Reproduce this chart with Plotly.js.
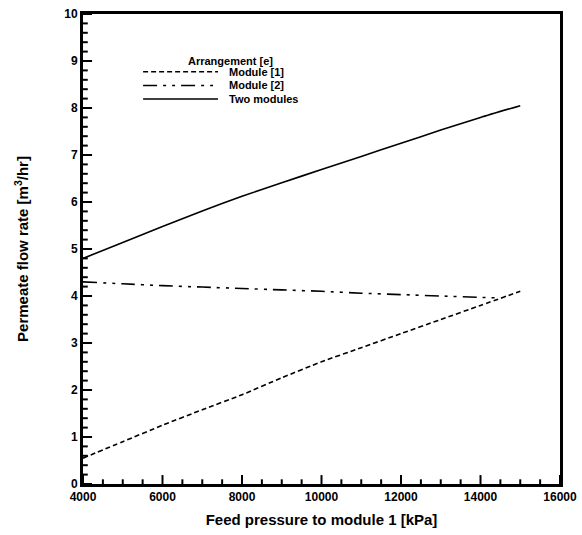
<!DOCTYPE html>
<html>
<head>
<meta charset="utf-8">
<script src="https://cdn.plot.ly/plotly-3.0.1.min.js"></script>
<style>html,body{margin:0;padding:0;background:#fff;}#chart{width:582px;height:535px;}</style>
</head>
<body>
<div id="chart"></div>
<script>
// Feed pressure to module 1 [kPa]
const pressure = [4000, 5000, 6000, 7000, 8000, 9000, 10000, 11000, 12000, 13000, 14000, 15000];
const module1 = [0.55, 0.90, 1.25, 1.58, 1.90, 2.26, 2.60, 2.90, 3.20, 3.50, 3.80, 4.10];
const pressure2 = [4000, 5000, 6000, 7000, 8000, 9000, 10000, 11000, 12000, 13000, 14000, 14500];
const module2 = [4.30, 4.26, 4.22, 4.19, 4.16, 4.13, 4.10, 4.06, 4.03, 4.00, 3.97, 3.96];
const twoModules = [4.80, 5.14, 5.48, 5.81, 6.12, 6.41, 6.69, 6.97, 7.25, 7.53, 7.80, 8.05];
const seriesNames = ["Module [1]", "Module [2]", "Two modules"];
const legendTitle = "Arrangement [e]";
const xTicks = [4000, 6000, 8000, 10000, 12000, 14000, 16000];
const yTicks = [0, 1, 2, 3, 4, 5, 6, 7, 8, 9, 10];

const FONT = "Liberation Sans, Arial, sans-serif";
const dashes = ["5px,3px", "14px,6px,3px,6px,3px,6px", "solid"];

const traces = [
  {x: pressure, y: module1, name: seriesNames[0], mode: "lines",
   line: {color: "black", width: 1.6, dash: dashes[0], shape: "spline", smoothing: 0.6}},
  {x: pressure2, y: module2, name: seriesNames[1], mode: "lines",
   line: {color: "black", width: 1.6, dash: dashes[1], shape: "spline", smoothing: 0.6}},
  {x: pressure, y: twoModules, name: seriesNames[2], mode: "lines",
   line: {color: "black", width: 1.6, dash: dashes[2], shape: "spline", smoothing: 0.6}}
];

const shapes = [];
// axis tick marks (inside), placed on the axes' own scales
for (let v = xTicks[0]; v <= xTicks[xTicks.length - 1]; v += 500) {
  const major = xTicks.includes(v);
  shapes.push({type: "line", xref: "x", yref: "paper", x0: v, x1: v, y0: 0, y1: major ? 0.019 : 0.01,
    line: {color: "black", width: 2}});
}
for (let k = 0; k <= 50; k++) {
  const v = k * 0.2;
  const major = k % 5 === 0;
  shapes.push({type: "line", xref: "paper", yref: "y", x0: 0, x1: major ? 0.019 : 0.01, y0: v, y1: v,
    line: {color: "black", width: 2}});
}

// manual legend (paper coordinates)
const rowY = [0.877, 0.848, 0.819];
const annotations = [{
  xref: "paper", yref: "paper", x: 0.31, y: 0.899, xanchor: "center", yanchor: "middle",
  text: "<b>" + legendTitle + "</b>", showarrow: false, font: {family: FONT, size: 11, color: "black"}
}];
seriesNames.forEach((n, i) => {
  shapes.push({type: "line", xref: "paper", yref: "paper", x0: 0.126, x1: 0.283, y0: rowY[i], y1: rowY[i],
    line: {color: "black", width: 1.4, dash: dashes[i]}});
  annotations.push({xref: "paper", yref: "paper", x: 0.302, y: rowY[i], xanchor: "left", yanchor: "middle",
    text: "<b>" + n + "</b>", showarrow: false, font: {family: FONT, size: 11, color: "black"}});
});

const layout = {
  width: 582, height: 535,
  margin: {l: 83, r: 22, t: 14, b: 51},
  showlegend: false,
  xaxis: {
    range: [4000, 16000], tickmode: "array", tickvals: xTicks, ticktext: xTicks.map(String),
    showgrid: false, zeroline: false,
    showline: true, linecolor: "black", linewidth: 3, mirror: true,
    ticks: "", 
    tickfont: {family: FONT, size: 12, color: "black", weight: "bold"},
    title: {text: "<b>Feed pressure to module 1 [kPa]</b>", standoff: 12,
      font: {family: FONT, size: 15, color: "black"}}
  },
  yaxis: {
    range: [0, 10], tickmode: "array", tickvals: yTicks, ticktext: yTicks.map(String),
    showgrid: false, zeroline: false,
    showline: true, linecolor: "black", linewidth: 3, mirror: true,
    ticks: "",
    tickfont: {family: FONT, size: 12, color: "black", weight: "bold"},
    title: {text: "<b>Permeate flow rate [m<sup>3</sup>/hr]</b>", standoff: 32,
      font: {family: FONT, size: 15, color: "black"}}
  },
  shapes: shapes,
  annotations: annotations
};

Plotly.newPlot("chart", traces, layout, {displayModeBar: false});
</script>
</body>
</html>
